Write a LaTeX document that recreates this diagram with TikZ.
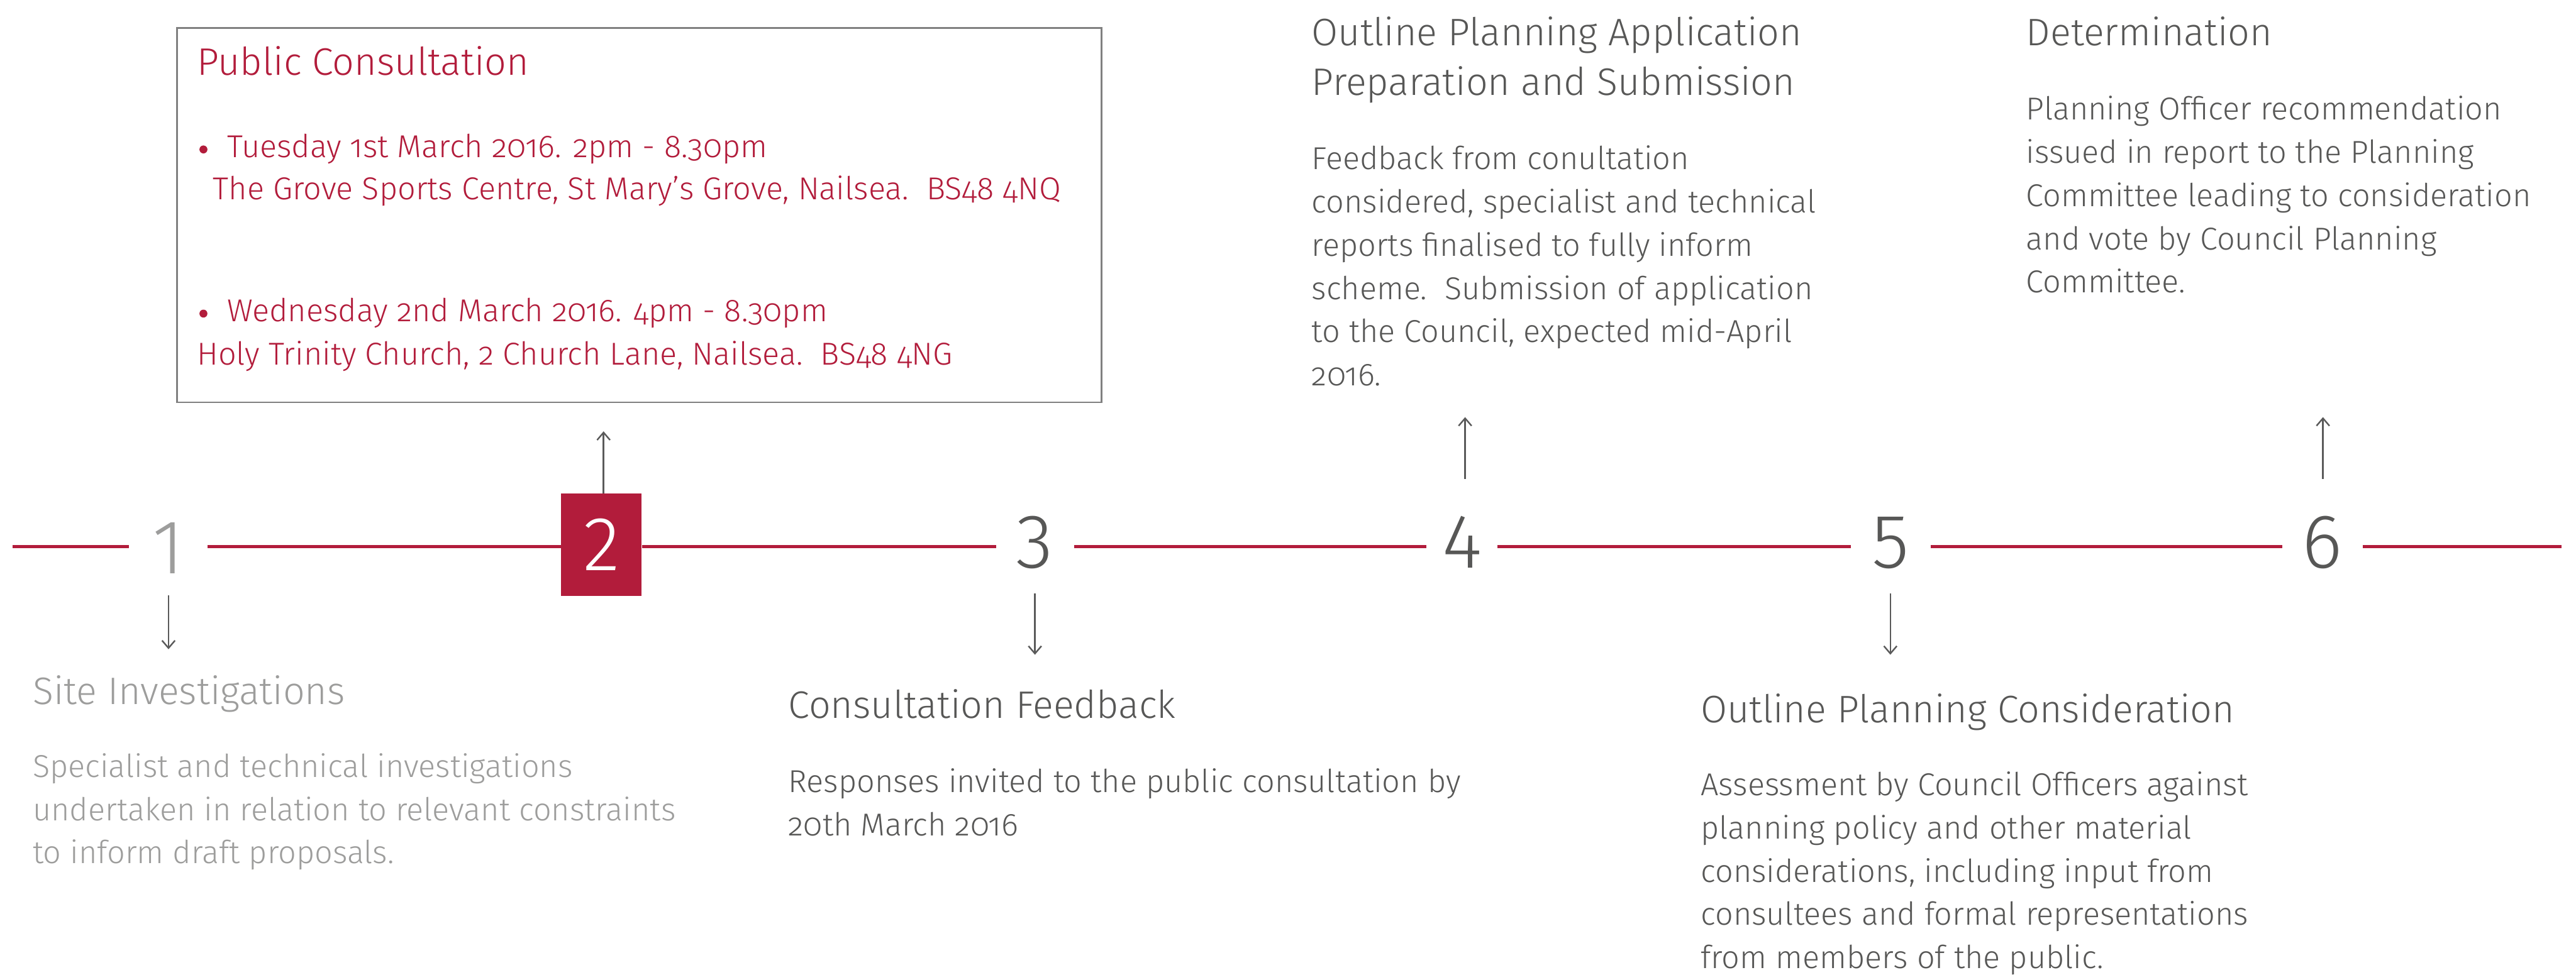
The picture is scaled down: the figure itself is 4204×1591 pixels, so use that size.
\documentclass[tikz,border=0pt]{standalone}
\usepackage{fontspec}
\setmainfont{Fira Sans Light}[Numbers=OldStyle]
\newfontfamily\digitfont{Fira Sans Light}[Numbers=Lining]
\usetikzlibrary{arrows.meta}

\definecolor{crimson}{HTML}{B21C3B}
\definecolor{darktext}{HTML}{575756}
\definecolor{lighttext}{HTML}{9D9D9C}
\definecolor{arrowgray}{HTML}{5A5A5A}
\definecolor{framegray}{HTML}{808080}

% one line of a stacked text block
\newcommand\lineof[1]{\hbox{#1}}
% a block of lines whose reference point is the first baseline
\newcommand\textlines[1]{\vtop{#1}}

\tikzset{
  heading/.style={anchor=base west, inner sep=0pt, font=\fontsize{17.8pt}{23.3pt}\selectfont},
  body/.style={anchor=base west, inner sep=0pt, font=\fontsize{14.7pt}{20.06pt}\selectfont},
  digit/.style={anchor=base, inner sep=0pt, font=\digitfont\fontsize{35.6pt}{40pt}\selectfont, text=darktext},
  timeline/.style={draw=crimson, line width=0.05cm},
  arr/.style={draw=arrowgray, line width=0.025cm, -{Straight Barb[length=3.5pt,width=6pt]}},
  bulletdot/.style={circle, fill=crimson, inner sep=0pt, minimum size=0.13cm},
}

\begin{document}
\begin{tikzpicture}[x=0.01cm, y=-0.01cm]
\useasboundingbox (0,0) rectangle (4204,1591);

% ---- timeline markers ----
\coordinate (tl-start) at (21,892);
\coordinate (tl-end) at (4180,892);
\node[digit, text=lighttext, minimum width=1.27cm] (n1) at (274.5,937) {1};
\node[fill=crimson, text=white, inner sep=0pt, minimum width=1.31cm, minimum height=1.67cm,
      font=\digitfont\fontsize{35.6pt}{40pt}\selectfont] (n2) at (981.5,889.5) {\raisebox{-1.4pt}{2}};
\node[digit, minimum width=1.26cm] (n3) at (1689,927) {3};
\node[digit, minimum width=1.14cm] (n4) at (2386,927) {4};
\node[digit, minimum width=1.29cm] (n5) at (3085.5,927) {5};
\node[digit, minimum width=1.30cm] (n6) at (3790,927) {6};

\draw[timeline] (tl-start) -- (n1.west |- tl-start);
\draw[timeline] (n1.east |- tl-start) -- (n2.west |- tl-start);
\draw[timeline] (n2.east |- tl-start) -- (n3.west |- tl-start);
\draw[timeline] (n3.east |- tl-start) -- (n4.west |- tl-start);
\draw[timeline] (n4.east |- tl-start) -- (n5.west |- tl-start);
\draw[timeline] (n5.east |- tl-start) -- (n6.west |- tl-start);
\draw[timeline] (n6.east |- tl-start) -- (tl-end);

% ---- pointers from the markers ----
\coordinate (a1-from) at (275,972);   \coordinate (a1-to) at (275,1060);
\coordinate (a3-from) at (1689,969);  \coordinate (a3-to) at (1689,1069);
\coordinate (a4-from) at (2391,782);  \coordinate (a4-to) at (2391,681);
\coordinate (a5-from) at (3085,969);  \coordinate (a5-to) at (3085,1069);
\coordinate (a6-from) at (3791,782);  \coordinate (a6-to) at (3791,681);
\draw[arr] (a1-from) -- (a1-to);
\draw[arr] ([xshift=0.035cm]n2.north) -- ++(0,-101);
\draw[arr] (a3-from) -- (a3-to);
\draw[arr] (a4-from) -- (a4-to);
\draw[arr] (a5-from) -- (a5-to);
\draw[arr] (a6-from) -- (a6-to);

% ---- step 2: consultation dates ----
\node[draw=framegray, line width=0.03cm, anchor=north west, inner sep=0pt,
      minimum width=15.08cm, minimum height=6.11cm] (consult) at (287,44) {};
\node[heading, text=crimson] (c-title) at (321,123) {Public Consultation};
\node[bulletdot] (c-dot1) at (332,244) {};
\node[body, text=crimson] (c-date1) at (370,257) {Tuesday 1st March 2016. 2pm - 8.30pm};
\node[body, text=crimson] (c-place1) at (347,326) {The Grove Sports Centre, St Mary’s Grove, Nailsea.~~BS48 4NQ};
\node[bulletdot] (c-dot2) at (332,512) {};
\node[body, text=crimson] (c-date2) at (370,525) {Wednesday 2nd March 2016. 4pm - 8.30pm};
\node[body, text=crimson] (c-place2) at (321,596) {Holy Trinity Church, 2 Church Lane, Nailsea.~~BS48 4NG};

% ---- step 1 ----
\node[heading, text=lighttext] (s1-title) at (53,1150) {Site Investigations};
\node[body, text=lighttext] (s1-text) at (53,1269) {\textlines{%
  \lineof{Specialist and technical investigations}
  \lineof{undertaken in relation to relevant constraints}
  \lineof{to inform draft proposals.}}};

% ---- step 3 ----
\node[heading, text=darktext] (s3-title) at (1286,1173) {Consultation Feedback};
\node[body, text=darktext] (s3-text) at (1286,1294) {\textlines{%
  \lineof{Responses invited to the public consultation by}
  \lineof{20th March 2016}}};

% ---- step 4 ----
\node[heading, text=darktext] (s4-title) at (2140,74) {\textlines{%
  \lineof{Outline Planning Application}
  \lineof{Preparation and Submission}}};
\node[body, text=darktext] (s4-text) at (2140,277) {\textlines{%
  \lineof{Feedback from conultation}
  \lineof{considered, specialist and technical}
  \lineof{reports finalised to fully inform}
  \lineof{scheme.~~Submission of application}
  \lineof{to the Council, expected mid-April}
  \lineof{2016.}}};

% ---- step 5 ----
\node[heading, text=darktext] (s5-title) at (2775,1180) {Outline Planning Consideration};
\node[body, text=darktext] (s5-text) at (2775,1299) {\textlines{%
  \lineof{Assessment by Council Officers against}
  \lineof{planning policy and other material}
  \lineof{considerations, including input from}
  \lineof{consultees and formal representations}
  \lineof{from members of the public.}}};

% ---- step 6 ----
\node[heading, text=darktext] (s6-title) at (3306,74) {Determination};
\node[body, text=darktext] (s6-text) at (3306,196) {\textlines{%
  \lineof{Planning Officer recommendation}
  \lineof{issued in report to the Planning}
  \lineof{Committee leading to consideration}
  \lineof{and vote by Council Planning}
  \lineof{Committee.}}};
\end{tikzpicture}
\end{document}
